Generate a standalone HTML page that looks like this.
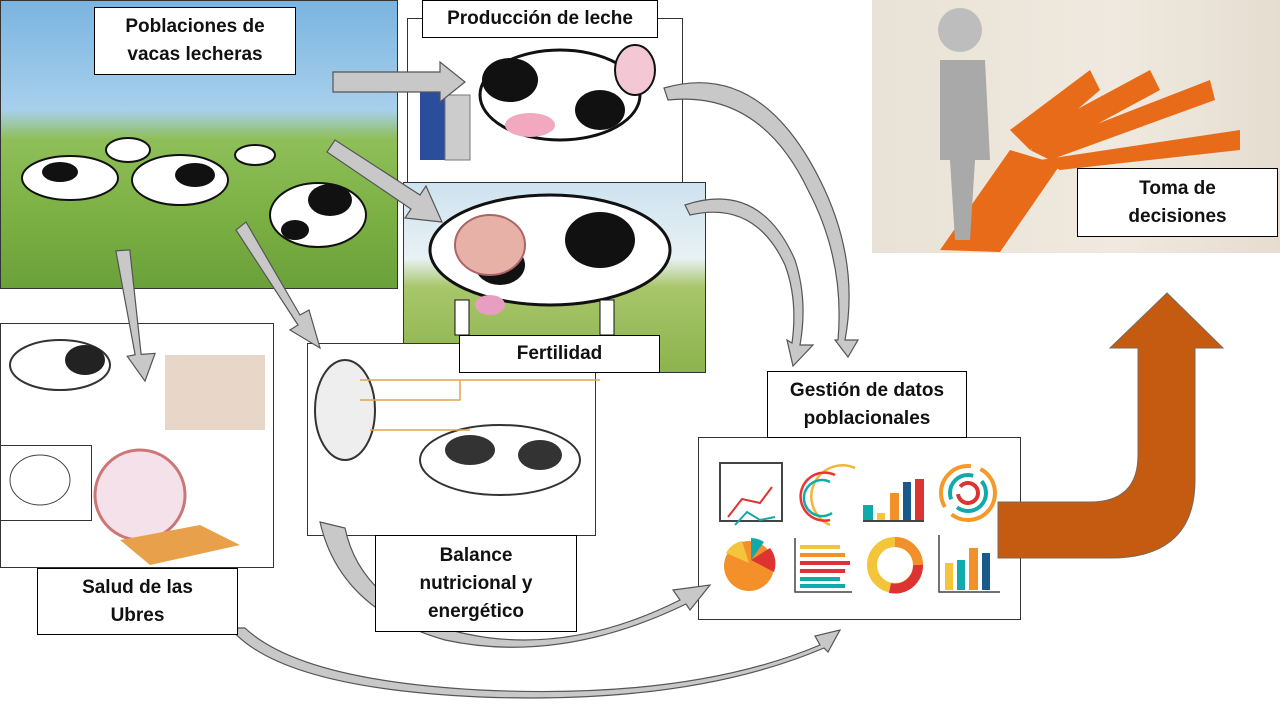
<!DOCTYPE html>
<html><head><meta charset="utf-8"><style>
body{margin:0;width:1280px;height:720px;background:#fff;position:relative;overflow:hidden;font-family:"Liberation Sans",sans-serif}
.lbl{position:absolute;background:#fff;border:1px solid #000;box-sizing:border-box;display:flex;align-items:center;justify-content:center;text-align:center;font-weight:bold;font-size:19px;line-height:28px;color:#111}
.img{position:absolute;box-sizing:border-box;border:1px solid #333;overflow:hidden}
</style></head><body>
<!-- pasture -->
<div class="img" style="left:0;top:0;width:398px;height:289px;background:linear-gradient(#7ab4e0 0%,#a8d0ec 38%,#8fbf5a 48%,#7bb043 75%,#6aa13a 100%)"></div>
<!-- production -->
<div class="img" style="left:407px;top:18px;width:276px;height:166px;background:#fff"></div>
<!-- fertility -->
<div class="img" style="left:403px;top:182px;width:303px;height:191px;background:linear-gradient(#cde3ef 0%,#e8f1f4 40%,#a8c66a 55%,#8cb34e 100%)"></div>
<!-- udder -->
<div class="img" style="left:0;top:323px;width:274px;height:245px;background:#fff"></div>
<div class="img" style="left:0;top:445px;width:92px;height:76px;background:#fff"></div>
<!-- balance -->
<div class="img" style="left:307px;top:343px;width:289px;height:193px;background:#fff"></div>
<!-- decision photo -->
<div class="img" style="left:872px;top:0;width:408px;height:253px;border:none;background:linear-gradient(90deg,#e9e2d6,#efe9df 60%,#e6ddd0)"></div>
<!-- charts box -->
<div class="img" style="left:698px;top:437px;width:323px;height:183px;background:#fff"></div>

<svg width="1280" height="720" style="position:absolute;left:0;top:0">
<!-- cows pasture -->
<g fill="#fff" stroke="#111" stroke-width="2">
<ellipse cx="70" cy="178" rx="48" ry="22"/><ellipse cx="180" cy="180" rx="48" ry="25"/><ellipse cx="318" cy="215" rx="48" ry="32"/><ellipse cx="128" cy="150" rx="22" ry="12"/><ellipse cx="255" cy="155" rx="20" ry="10"/>
</g>
<g fill="#111"><ellipse cx="60" cy="172" rx="18" ry="10"/><ellipse cx="195" cy="175" rx="20" ry="12"/><ellipse cx="330" cy="200" rx="22" ry="16"/><ellipse cx="295" cy="230" rx="14" ry="10"/></g>
<!-- production cow -->
<ellipse cx="560" cy="95" rx="80" ry="45" fill="#fff" stroke="#111" stroke-width="3"/>
<ellipse cx="510" cy="80" rx="28" ry="22" fill="#111"/><ellipse cx="600" cy="110" rx="25" ry="20" fill="#111"/>
<ellipse cx="635" cy="70" rx="20" ry="25" fill="#f3c7d3" stroke="#111" stroke-width="2"/>
<ellipse cx="530" cy="125" rx="25" ry="12" fill="#f2a9c0"/>
<rect x="420" y="90" width="30" height="70" fill="#2a4d9c"/><rect x="445" y="95" width="25" height="65" fill="#ccc" stroke="#777"/>
<!-- fertility cow -->
<ellipse cx="550" cy="250" rx="120" ry="55" fill="#fff" stroke="#111" stroke-width="3"/>
<ellipse cx="600" cy="240" rx="35" ry="28" fill="#111"/><ellipse cx="500" cy="265" rx="25" ry="20" fill="#111"/>
<ellipse cx="490" cy="245" rx="35" ry="30" fill="#e7b1a8" stroke="#a66" stroke-width="2"/>
<ellipse cx="490" cy="305" rx="15" ry="10" fill="#e79ec0"/>
<rect x="455" y="300" width="14" height="35" fill="#fff" stroke="#111"/><rect x="600" y="300" width="14" height="35" fill="#fff" stroke="#111"/>
<!-- udder images -->
<ellipse cx="60" cy="365" rx="50" ry="25" fill="#fff" stroke="#333" stroke-width="2"/><ellipse cx="85" cy="360" rx="20" ry="15" fill="#222"/>
<rect x="165" y="355" width="100" height="75" fill="#e8d6c8"/>
<circle cx="140" cy="495" r="45" fill="#f4e1ea" stroke="#c77" stroke-width="3"/>
<path d="M120 540 L200 525 L240 545 L150 565 Z" fill="#e8a04a"/>
<ellipse cx="40" cy="480" rx="30" ry="25" fill="none" stroke="#444"/>
<!-- balance -->
<ellipse cx="345" cy="410" rx="30" ry="50" fill="#eee" stroke="#333" stroke-width="2"/>
<ellipse cx="500" cy="460" rx="80" ry="35" fill="#fff" stroke="#333" stroke-width="2"/>
<ellipse cx="470" cy="450" rx="25" ry="15" fill="#333"/><ellipse cx="540" cy="455" rx="22" ry="15" fill="#333"/>
<g stroke="#e0a64c" stroke-width="1.5" fill="none"><path d="M360 380 L600 380"/><path d="M360 400 L460 400 L460 380"/><path d="M370 430 L470 430"/></g>
<!-- decision figure -->
<g fill="#e86b1a">
<path d="M940 250 L1010 150 L1060 165 L1000 252 Z"/>
<path d="M1010 130 L1090 70 L1100 90 L1030 150Z"/><path d="M1020 140 L1150 70 L1160 90 L1040 155Z"/><path d="M1030 150 L1210 80 L1215 100 L1050 160Z"/><path d="M1040 160 L1240 130 L1240 150 L1060 170Z"/>
</g>
<circle cx="960" cy="30" r="22" fill="#bdbdbd"/>
<path d="M940 60 L985 60 L990 160 L975 160 L970 240 L955 240 L950 160 L940 160Z" fill="#a9a9a9"/>
<!-- charts -->
<rect x="720" y="463" width="62" height="58" fill="#fff" stroke="#444" stroke-width="2"/>
<polyline points="728,517 742,499 760,503 772,487" fill="none" stroke="#d33" stroke-width="2"/>
<polyline points="735,525 747,512 760,520 775,517" fill="none" stroke="#1aa" stroke-width="2"/>
<g fill="none" stroke-width="2.5"><path d="M855 468 A30 30 0 1 0 830 525" stroke="#f4b63a"/><path d="M835 475 A24 24 0 1 0 830 520" stroke="#e33"/><path d="M830 482 A18 18 0 1 0 832 513" stroke="#1aa"/></g>
<rect x="863" y="505" width="10" height="15" fill="#1aa"/><rect x="877" y="513" width="8" height="7" fill="#f4c43a"/><rect x="890" y="493" width="9" height="27" fill="#f4902a"/><rect x="903" y="482" width="8" height="38" fill="#1a5a8a"/><rect x="915" y="479" width="9" height="41" fill="#d33"/><rect x="863" y="520" width="61" height="2" fill="#444"/>
<g fill="none" stroke-width="4"><circle cx="968" cy="493" r="27" stroke="#f49a2a" stroke-dasharray="60 10"/><circle cx="968" cy="493" r="18" stroke="#1aa" stroke-dasharray="40 10"/><circle cx="968" cy="493" r="10" stroke="#d33" stroke-dasharray="30 8"/></g>
<circle cx="749" cy="566" r="25" fill="#f4902a"/><path d="M751 560 L770 548 A25 25 0 0 1 774 572Z" fill="#d33"/><path d="M751 560 L751 538 A25 25 0 0 1 764 542Z" fill="#1aa"/><path d="M749 563 L726 553 A25 25 0 0 1 742 541Z" fill="#f4c43a"/>
<g><rect x="800" y="545" width="40" height="4" fill="#f4c43a"/><rect x="800" y="553" width="45" height="4" fill="#f4902a"/><rect x="800" y="561" width="50" height="4" fill="#d33"/><rect x="800" y="569" width="45" height="4" fill="#d33"/><rect x="800" y="577" width="40" height="4" fill="#1aa"/><rect x="800" y="584" width="45" height="4" fill="#1aa"/><path d="M795 538 L795 592 L852 592" fill="none" stroke="#444" stroke-width="1.5"/></g>
<circle cx="895" cy="565" r="23" fill="none" stroke="#f4c43a" stroke-width="10"/><path d="M895 542 A23 23 0 0 1 918 565" fill="none" stroke="#f4902a" stroke-width="10"/><path d="M918 565 A23 23 0 0 1 890 588" fill="none" stroke="#d33" stroke-width="10"/>
<g><rect x="945" y="563" width="8" height="27" fill="#f4c43a"/><rect x="957" y="560" width="8" height="30" fill="#1aa"/><rect x="969" y="548" width="9" height="42" fill="#f4902a"/><rect x="982" y="553" width="8" height="37" fill="#1a5a8a"/><path d="M939 535 L939 592 L1000 592" fill="none" stroke="#444" stroke-width="1.5"/></g>
<!-- orange arrow -->
<path d="M998 502 L1090 502 Q1138 502 1138 455 L1138 348 L1110 348 L1167 293 L1223 348 L1195 348 L1195 480 Q1195 558 1110 558 L998 558 Z" fill="#c55a11" stroke="#7a6a5a" stroke-width="1"/>
<!-- gray straight arrows -->
<g fill="#c8c8c8" stroke="#555" stroke-width="1.2">
<path d="M333 72 L440 72 L440 62 L465 82 L440 102 L440 92 L333 92Z"/>
<path d="M335 140 L420 195 L426 186 L442 222 L405 218 L411 209 L327 152Z"/>
<path d="M120 250 L134 250 L138 355 L152 355 L140 382 L124 356 L132 355Z" transform="rotate(-4 130 310)"/>
<path d="M246 222 L300 315 L309 310 L320 348 L290 330 L298 325 L236 230Z"/>
</g>
<!-- curved arrows -->
<g fill="#c8c8c8" stroke="#555" stroke-width="1.2">
<path d="M664 88 Q760 60 820 180 Q860 260 845 340 L858 340 L848 357 L835 340 L838 340 Q845 260 808 190 Q760 90 668 100Z"/>
<path d="M685 205 Q760 180 795 260 Q808 300 800 345 L813 345 L793 366 L787 340 L792 343 Q798 300 785 265 Q755 200 690 215Z"/>
<path d="M320 522 L345 528 Q360 600 450 630 Q560 660 680 600 L673 590 L710 585 L690 610 L686 604 Q560 665 445 640 Q340 610 320 522Z"/>
<path d="M230 628 L245 628 Q300 680 480 690 Q690 700 820 645 L815 636 L840 630 L828 652 L824 648 Q690 705 480 697 Q280 688 230 628Z"/>
</g>
</svg>

<div class="lbl" style="left:94px;top:7px;width:202px;height:68px">Poblaciones de<br>vacas lecheras</div>
<div class="lbl" style="left:422px;top:0;width:236px;height:38px">Producción de leche</div>
<div class="lbl" style="left:459px;top:335px;width:201px;height:38px">Fertilidad</div>
<div class="lbl" style="left:37px;top:568px;width:201px;height:67px">Salud de las<br>Ubres</div>
<div class="lbl" style="left:375px;top:535px;width:202px;height:97px">Balance<br>nutricional y<br>energético</div>
<div class="lbl" style="left:767px;top:371px;width:200px;height:67px">Gestión de datos<br>poblacionales</div>
<div class="lbl" style="left:1077px;top:168px;width:201px;height:69px">Toma de<br>decisiones</div>
</body></html>
